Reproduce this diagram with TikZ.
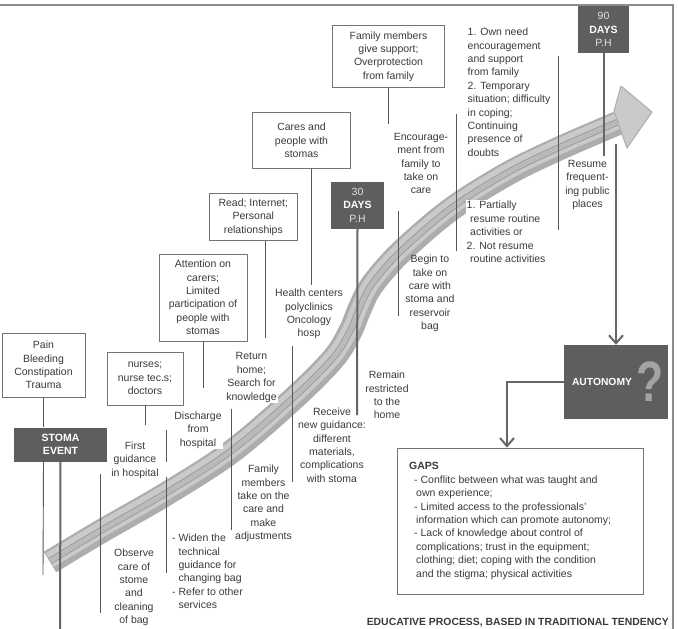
\documentclass[tikz,border=0pt]{standalone}
\usepackage{fontspec}
\setmainfont{Liberation Sans}
\usetikzlibrary{arrows.meta}
\definecolor{txt}{HTML}{3A3A3A}
\definecolor{boxc}{HTML}{747474}
\definecolor{darkbox}{HTML}{5E5E5E}
\definecolor{linec}{HTML}{555555}
\definecolor{thickc}{HTML}{666666}
\definecolor{framec}{HTML}{8C8C8C}
\definecolor{bandside}{HTML}{ADADAD}
\definecolor{bandtop}{HTML}{CACACA}
\definecolor{bandline}{HTML}{969696}
\definecolor{bandmid}{HTML}{BABABA}
\definecolor{qmark}{HTML}{A3A3A3}
\definecolor{daytxt}{HTML}{E2E2E2}
\begin{document}
\begin{tikzpicture}[x=1pt,y=-1pt,
  every node/.style={font=\fontsize{10.5}{13.4}\selectfont, text=txt},
  lbl/.style={align=center, inner sep=1pt},
  lbll/.style={align=left, inner sep=1pt, anchor=west},
  wbox/.style={draw=boxc, line width=0.9pt, align=center, inner sep=0pt, fill=white},
  dbox/.style={fill=darkbox, align=center, inner sep=0pt, text=white},
  conn/.style={draw=linec, line width=0.9pt},
  connb/.style={draw=thickc, line width=2pt},
  arrb/.style={draw=thickc, line width=2pt, -{Straight Barb[length=8pt,width=14pt]}}
]
\useasboundingbox (0,0) rectangle (678,629);
% frame
\draw[framec, line width=1.6pt] (0,5) -- (673,5) -- (673,629);

% band
\draw[line width=24pt, bandside, line cap=butt] plot[smooth,tension=0.55] coordinates {(50,562) (100,532) (166,494) (231,452) (292,400) (333,359) (350,332) (360,308) (372,285) (400,253) (450,210) (507,174) (558,149) (618,123)};
\draw[line width=16pt, bandtop, line cap=butt, yshift=2pt] plot[smooth,tension=0.55] coordinates {(50,562) (100,532) (166,494) (231,452) (292,400) (333,359) (350,332) (360,308) (372,285) (400,253) (450,210) (507,174) (558,149) (618,123)};
\draw[bandline, line width=0.8pt, double=bandmid, double distance=5pt, line cap=butt, yshift=1pt] plot[smooth,tension=0.55] coordinates {(50,562) (100,532) (166,494) (231,452) (292,400) (333,359) (350,332) (360,308) (372,285) (400,253) (450,210) (507,174) (558,149) (618,123)};
\filldraw[fill=bandtop, draw=bandside, line width=1pt, line join=round] (614,111) -- (621,86) -- (652,112) -- (627,148) -- (622,134) -- cycle;

% boxes
\node[wbox, minimum width=83pt, minimum height=64pt] (pain) at (43.5,365) {Pain\\Bleeding\\Constipation\\Trauma};
\node[dbox, minimum width=93pt, minimum height=34pt, font=\fontsize{10.5}{13.4}\selectfont\bfseries] (stoma) at (60.5,444.5) {STOMA\\EVENT};
\node[wbox, minimum width=76pt, minimum height=53pt] (nurses) at (145,378.5) {nurses;\\nurse tec.s;\\doctors};
\node[wbox, minimum width=88pt, minimum height=87pt] (attn) at (203,297.5) {Attention on\\carers;\\Limited\\participation of\\people with\\stomas};
\node[wbox, minimum width=88pt, minimum height=47.4pt] (read) at (253.3,217) {Read; Internet;\\Personal\\relationships};
\node[wbox, minimum width=98.4pt, minimum height=55.6pt] (cares) at (301.5,140.5) {Cares and\\people with\\stomas};
\node[wbox, minimum width=111.6pt, minimum height=61.6pt] (famsup) at (388.5,56.5) {Family members\\give support;\\Overprotection\\from family};
\node[dbox, minimum width=53pt, minimum height=47.3pt] (d30) at (357.5,205.3) {\textcolor{daytxt}{30}\\\textbf{DAYS}\\\textcolor{daytxt}{P.H}};
\node[dbox, minimum width=51pt, minimum height=47pt] (d90) at (603.5,29.5) {\textcolor{daytxt}{90}\\\textbf{DAYS}\\\textcolor{daytxt}{P.H}};
\node[dbox, minimum width=104pt, minimum height=74pt] (auto) at (616,382) {};
\node[text=white, font=\fontsize{10.3}{12}\selectfont\bfseries, inner sep=0pt] (autot) at (602,382) {AUTONOMY};
\node[text=qmark, font=\fontsize{57}{57}\selectfont\bfseries, inner sep=0pt] (qm) at (650,382) {\scalebox{0.78}[1]{?}};
\node[wbox, minimum width=246pt, minimum height=146pt] (gaps) at (520,521) {};
\node[lbll] (gapst) at (408,521) {\textbf{GAPS}\\
\hspace{5pt}- Conflitc between what was taught and\\
\hspace{7pt}own experience;\\
\hspace{5pt}- Limited access to the professionals'\\
\hspace{7pt}information which can promote autonomy;\\
\hspace{5pt}- Lack of knowledge about control of\\
\hspace{7pt}complications; trust in the equipment;\\
\hspace{7pt}clothing; diet; coping with the condition\\
\hspace{7pt}and the stigma; physical activities};

% free labels
\node[lbl] (firstg) at (135,460) {First\\guidance\\in hospital};
\node[lbl] (observe) at (134,587.5) {Observe\\care of\\stome\\and\\cleaning\\of bag};
\node[lbl, fill=white] (disch) at (198,430) {Discharge\\from\\hospital};
\node[lbll] (widen) at (171,571.5) {- Widen the\\\phantom{- }technical\\\phantom{- }guidance for\\\phantom{- }changing bag\\- Refer to other\\\phantom{- }services};
\node[lbl, fill=white] (rethome) at (251.5,377.5) {Return\\home;\\Search for\\knowledge};
\node[lbl] (famtake) at (263.5,503.5) {Family\\members\\take on the\\care and\\make\\adjustments};
\node[lbl] (health) at (309,314) {Health centers\\polyclinics\\Oncology\\hosp};
\node[lbl] (receive) at (332,445) {Receive\\new guidance:\\different\\materials,\\complications\\with stoma};
\node[lbl] (remain) at (387,395) {Remain\\restricted\\to the\\home};
\node[lbl] (encour) at (421,163.5) {Encourage-\\ment from\\family to\\take on\\care};
\node[lbl] (begin) at (430,293.5) {Begin to\\take on\\care with\\stoma and\\reservoir\\bag};
\node[lbll] (ownneed) at (466.5,92.3) {1. Own need\\encouragement\\and support\\from family\\2. Temporary\\situation; difficulty\\in coping;\\Continuing\\presence of\\doubts};
\node[lbll, fill=white] (partial) at (465.5,232) {1. Partially\\\hspace{3.5pt}resume routine\\\hspace{3.5pt}activities or\\2. Not resume\\\hspace{3.5pt}routine activities};
\node[lbl] (resume) at (587.5,185) {Resume\\frequent-\\ing public\\places};
\node[anchor=east, inner sep=0pt, font=\fontsize{10.4}{12}\selectfont\bfseries] (edu) at (669,623) {EDUCATIVE PROCESS, BASED IN TRADITIONAL TENDENCY};

% free line ends
\coordinate (s1) at (43,575);
\coordinate (s2) at (60,629);
\coordinate (n1) at (145,425);
\coordinate (a1) at (203,388);
\coordinate (r1) at (265,338);
\coordinate (c1) at (311,285);
\coordinate (f1) at (388,124);
\coordinate (t30) at (357,415);
\coordinate (t90) at (604,156);
\coordinate (aut0) at (616,144);

% connectors
\draw[conn] (pain.south) -- (stoma.north -| pain.south);
\draw[conn] (stoma.south -| pain.south) -- (s1);
\draw[connb] (stoma.south) -- (s2);
\draw[conn] (nurses.south) -- (n1);
\draw[conn] (attn.south) -- (a1);
\draw[conn] (r1 |- read.south) -- (r1);
\draw[conn] (c1 |- cares.south) -- (c1);
\draw[conn] (famsup.south -| f1) -- (f1);
\draw[connb] (d30.south) -- (t30);
\draw[connb] (t90 |- d90.south) -- (t90);
\draw[arrb] (aut0) -- (auto.north);
\draw[arrb] (auto.west) -| ([xshift=-13pt]gaps.north);

% vertical separators
\draw[conn] (100,474) -- (100,613);
\draw[conn] (166,430) -- (166,462);
\draw[conn] (166,477) -- (166,573);
\draw[conn] (231,409) -- (231,530);
\draw[conn] (292,346) -- (292,482);
\draw[conn] (398,211) -- (398,316);
\draw[conn] (456,114) -- (456,251);
\draw[conn] (558,56) -- (558,230);
\end{tikzpicture}
\end{document}
